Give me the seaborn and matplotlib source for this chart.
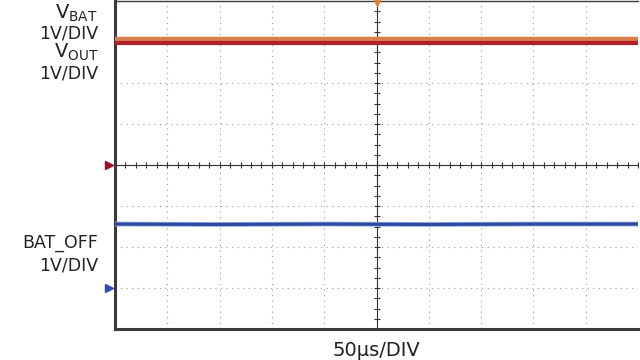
import numpy as np
import pandas as pd
import matplotlib
matplotlib.use("Agg")
import matplotlib.pyplot as plt
import seaborn as sns

# Scope capture, values in divisions (1 V/DIV, 50 us/DIV)
TIME_US = [0, 100, 200, 300, 400, 500]
VBAT_DIV = [3.07, 3.07, 3.07, 3.07, 3.07, 3.07]
VOUT_DIV = [2.97, 2.97, 2.97, 2.97, 2.97, 2.97]
BAT_OFF_DIV = [-1.44, -1.45, -1.44, -1.45, -1.44, -1.44]
REF_LEVELS = [0, -3]  # channel ground markers
N_XDIV, N_YDIV = 10, 8

sns.set_style("white")
plt.rcParams['font.family'] = ['DejaVu Sans']
plt.rcParams['mathtext.fontset'] = 'dejavusans'

df = pd.DataFrame({
    "t": np.array(TIME_US) / 50.0,
    "vbat": VBAT_DIV,
    "vout": VOUT_DIV,
    "bat_off": BAT_OFF_DIV,
})

fig = plt.figure(figsize=(6.4, 3.6), dpi=100)
ax = fig.add_axes([115 / 640, 31 / 360, 523 / 640, 328 / 360])

# graticule
for gx in range(1, N_XDIV):
    ax.axvline(gx, color="#9a9a9a", lw=0.8, ls=(0, (1, 4)), zorder=1)
for gy in range(-3, 4):
    ax.axhline(gy, color="#9a9a9a", lw=0.8, ls=(0, (1, 4)), zorder=1)
ax.axhline(0, color="#333333", lw=0.8, zorder=2)
ax.axvline(N_XDIV / 2, color="#333333", lw=0.8, zorder=2)
minor_x = np.arange(0, N_XDIV + 0.01, 0.2)
minor_y = np.arange(-N_YDIV / 2, N_YDIV / 2 + 0.01, 0.25)
ax.plot(minor_x, np.zeros_like(minor_x), ls="none", marker="|", ms=4, mew=0.8, color="#333333", zorder=2)
ax.plot(np.full_like(minor_y, N_XDIV / 2), minor_y, ls="none", marker="_", ms=4, mew=0.8, color="#333333", zorder=2)

# traces
sns.lineplot(data=df, x="t", y="vbat", color="#d9804a", lw=3.2, ax=ax, zorder=3)
sns.lineplot(data=df, x="t", y="vout", color="#b0202c", lw=3.0, ax=ax, zorder=4)
sns.lineplot(data=df, x="t", y="bat_off", color="#8ea4dc", lw=3.4, ax=ax, zorder=3)
sns.lineplot(data=df, x="t", y="bat_off", color="#2a4aa0", lw=2.2, ax=ax, zorder=4)

# channel reference markers
ax.plot([-0.12], [REF_LEVELS[0]], marker=">", ms=6, color="#a0102a", clip_on=False, zorder=5)
ax.plot([-0.12], [REF_LEVELS[1]], marker=">", ms=6, color="#3050b0", clip_on=False, zorder=5)
ax.plot([N_XDIV / 2], [N_YDIV / 2 - 0.05], marker="v", ms=4, color="#e08040", clip_on=False, zorder=5)

ax.set_xlim(0, N_XDIV)
ax.set_ylim(-N_YDIV / 2, N_YDIV / 2)
ax.set_xticks([])
ax.set_yticks([])
ax.set_xlabel("")
ax.set_ylabel("")
for side in ["left", "bottom"]:
    ax.spines[side].set_color("#3a3a3a")
    ax.spines[side].set_linewidth(2.2)
ax.spines["top"].set_color("#3a3a3a")
ax.spines["top"].set_linewidth(1.0)
ax.spines["right"].set_visible(False)

# labels
tx = 98 / 640
fs = 12.5
col = "#222222"
def lab(y_px, s, size=fs):
    fig.text(tx, 1 - y_px / 360, s, ha="right", va="baseline", fontsize=size, color=col)

lab(19, r"V$_{\mathrm{BAT}}$", 14)
lab(39, "1V/DIV")
lab(58, r"V$_{\mathrm{OUT}}$", 14)
lab(79, "1V/DIV")
lab(248, "BAT_OFF")
lab(270, "1V/DIV")
fig.text(376 / 640, 1 - 356 / 360, "50µs/DIV", ha="center", va="baseline", fontsize=14, color=col)

fig.savefig("out.png", dpi=100)
